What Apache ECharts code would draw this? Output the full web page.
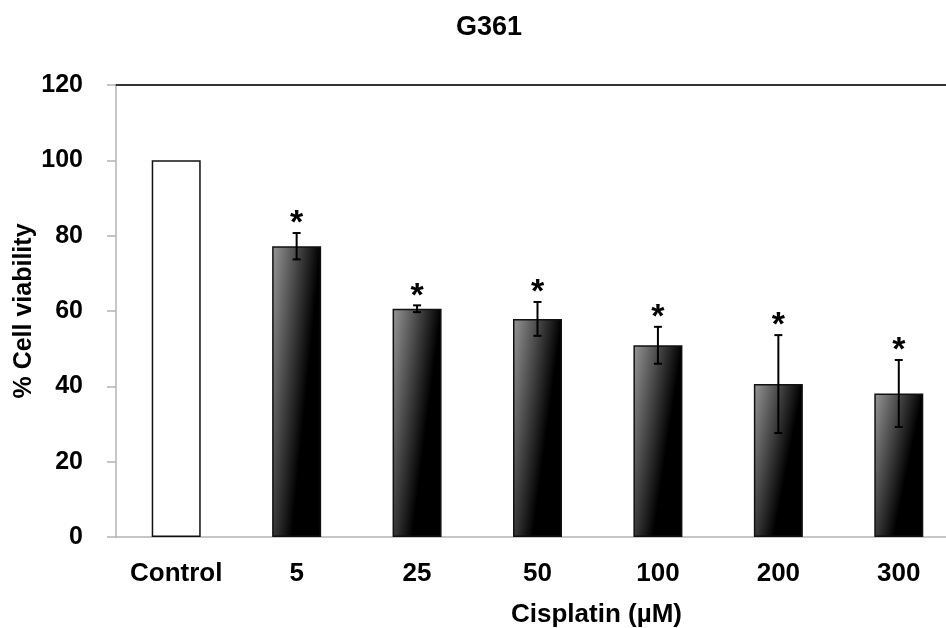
<!DOCTYPE html>
<html>
<head>
<meta charset="utf-8">
<script src="https://cdn.jsdelivr.net/npm/echarts@6/dist/echarts.min.js"></script>
<style>html,body{margin:0;padding:0;background:#fff}#c{width:946px;height:628px}</style>
</head>
<body>
<div id="c"></div>
<script>
const categories = ['Control', '5', '25', '50', '100', '200', '300'];
const viability = [100, 77.2, 60.6, 57.9, 50.9, 40.6, 38.1];
const errors = [0, 3.5, 0.9, 4.5, 4.9, 13.0, 8.9];
const significant = [false, true, true, true, true, true, true];
const chartTitle = 'G361';
const xName = 'Cisplatin (\u00b5M)';
const yName = '% Cell viability';

const FONT = 'Liberation Sans';
const chart = echarts.init(document.getElementById('c'), null, {renderer: 'canvas'});
const BAR_W = 49;

const txt = {fontFamily: FONT, fontWeight: 'bold', fontSize: 26, color: '#000'};

chart.setOption({
  animation: false,
  backgroundColor: '#fff',
  title: {
    text: chartTitle, left: 451, top: 9,
    textStyle: Object.assign({}, txt, {fontSize: 27})
  },
  grid: {left: 116, top: 85, bottom: 91, width: 843, containLabel: false, outerBoundsMode: 'none'},
  xAxis: [{
    type: 'category', data: categories,
    axisLine: {show: true, lineStyle: {color: '#b4b4b4', width: 1.5}},
    axisTick: {show: false},
    axisLabel: Object.assign({margin: 24, interval: 0}, txt),
    name: xName, nameLocation: 'middle', nameGap: 65,
    nameTextStyle: Object.assign({padding: [0, 0, 0, 118]}, txt)
  }, {
    type: 'category', data: categories, position: 'top',
    axisLine: {show: true, lineStyle: {color: '#333', width: 2}},
    axisTick: {show: false}, axisLabel: {show: false}
  }],
  yAxis: {
    type: 'value', min: 0, max: 120, interval: 20,
    axisLine: {show: true, lineStyle: {color: '#b4b4b4', width: 1.5}},
    axisTick: {show: true, inside: false, length: 9, lineStyle: {color: '#b4b4b4', width: 1.5}},
    axisLabel: Object.assign({margin: 33}, txt, {fontSize: 25}),
    splitLine: {show: false},
    name: yName, nameLocation: 'middle', nameRotate: 90, nameGap: 79, nameMoveOverlap: false,
    nameTextStyle: Object.assign({}, txt, {fontSize: 25})
  },
  series: [{
    type: 'bar', data: viability, barWidth: BAR_W,
    itemStyle: {color: '#fff', borderColor: '#111', borderWidth: 1.5}
  }, {
    type: 'custom',
    data: categories.map((c, i) => [i, viability[i], errors[i], significant[i] ? 1 : 0]),
    renderItem: function (params, api) {
      const i = api.value(0), v = api.value(1), e = api.value(2), s = api.value(3);
      const children = [];
      const top = api.coord([i, v + e]);
      const bot = api.coord([i, v - e]);
      const st = {stroke: '#000', lineWidth: 2};
      if (e > 0) {
        children.push({type: 'line', shape: {x1: top[0], y1: top[1], x2: bot[0], y2: bot[1]}, style: st});
        children.push({type: 'line', shape: {x1: top[0] - 4, y1: top[1], x2: top[0] + 4, y2: top[1]}, style: st});
        children.push({type: 'line', shape: {x1: bot[0] - 4, y1: bot[1], x2: bot[0] + 4, y2: bot[1]}, style: st});
      }
      if (s) {
        children.push({type: 'text', style: {
          text: '*', x: top[0], y: top[1] - 9, align: 'center', verticalAlign: 'middle',
          font: 'bold 34px "' + FONT + '"', fill: '#000'
        }});
      }
      return {type: 'group', children: children};
    },
    z: 5
  }]
});

// diagonal shaded fill for treated bars (light top-left to black right side)
const zeroPx = chart.convertToPixel({yAxisIndex: 0}, 0);
const k = 0.6;
const barData = viability.map((v, i) => {
  if (i === 0) return {value: v, itemStyle: {color: '#fff'}};
  const h = Math.max(1, zeroPx - chart.convertToPixel({yAxisIndex: 0}, v));
  const r = k * k * BAR_W * BAR_W / (h * h);
  const x1 = 1 / (1 + r);
  const y1 = k * x1 * BAR_W * BAR_W / (h * h);
  return {value: v, itemStyle: {color: new echarts.graphic.LinearGradient(0, 0, x1, y1, [
    {offset: 0, color: '#979797'}, {offset: 1, color: '#000'}
  ])}};
});
chart.setOption({series: [{data: barData}]});
</script>
</body>
</html>
